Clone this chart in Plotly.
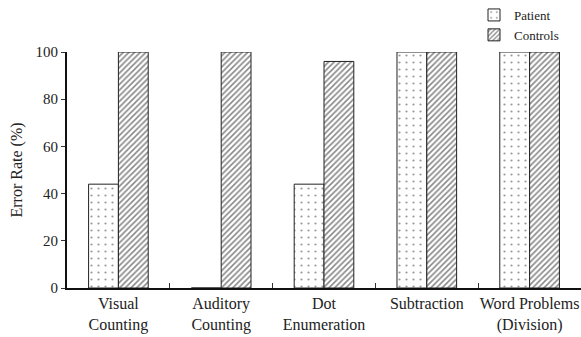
import plotly.graph_objects as go

categories = ["Visual<br>Counting", "Auditory<br>Counting", "Dot<br>Enumeration", "Subtraction", "Word Problems<br>(Division)"]
patient = [44, 0, 44, 100, 100]
controls = [100, 100, 96, 100, 100]

font = "Liberation Serif, Times New Roman, serif"
W, H = 581, 337

fig = go.Figure()
fig.add_trace(go.Bar(
    x=categories, y=patient, name="Patient",
    marker=dict(color="white", line=dict(color="#222", width=1),
                pattern=dict(shape=".", fgcolor="#333", bgcolor="white", size=7, solidity=0.08)),
))
fig.add_trace(go.Bar(
    x=categories, y=controls, name="Controls",
    marker=dict(color="white", line=dict(color="#222", width=1),
                pattern=dict(shape="/", fgcolor="#111", bgcolor="white", size=4, solidity=0.4)),
))

fig.update_layout(
    width=W, height=H,
    margin=dict(l=0, r=0, t=0, b=0),
    plot_bgcolor="white", paper_bgcolor="white",
    barmode="group", bargap=0.42, bargroupgap=0,
    font=dict(family=font, size=15, color="#222"),
    showlegend=True,
    legend=dict(x=474 / W, y=1.0, xanchor="left", yanchor="top",
                bgcolor="rgba(0,0,0,0)", font=dict(size=13),
                itemwidth=30, tracegroupgap=0),
    xaxis=dict(domain=[67 / W, 1], showline=True, linecolor="#111", linewidth=2, automargin=False,
               ticks="inside", tickson="boundaries", ticklen=5, tickcolor="#333",
               tickangle=0, tickfont=dict(size=16)),
    yaxis=dict(domain=[49 / H, 1 - 52 / H], range=[0, 100], tickvals=[0, 20, 40, 60, 80, 100],
               showline=True, linecolor="#111", linewidth=2, automargin=False,
               ticks="outside", ticklen=4, tickcolor="#333",
               showgrid=False, zeroline=False,
               title=dict(text="Error Rate (%)", font=dict(size=16), standoff=9),
               tickfont=dict(size=15)),
)

fig.write_html("out.html", config={"displayModeBar": False},
               post_script="document.body.style.margin='0';document.body.style.padding='0';")
